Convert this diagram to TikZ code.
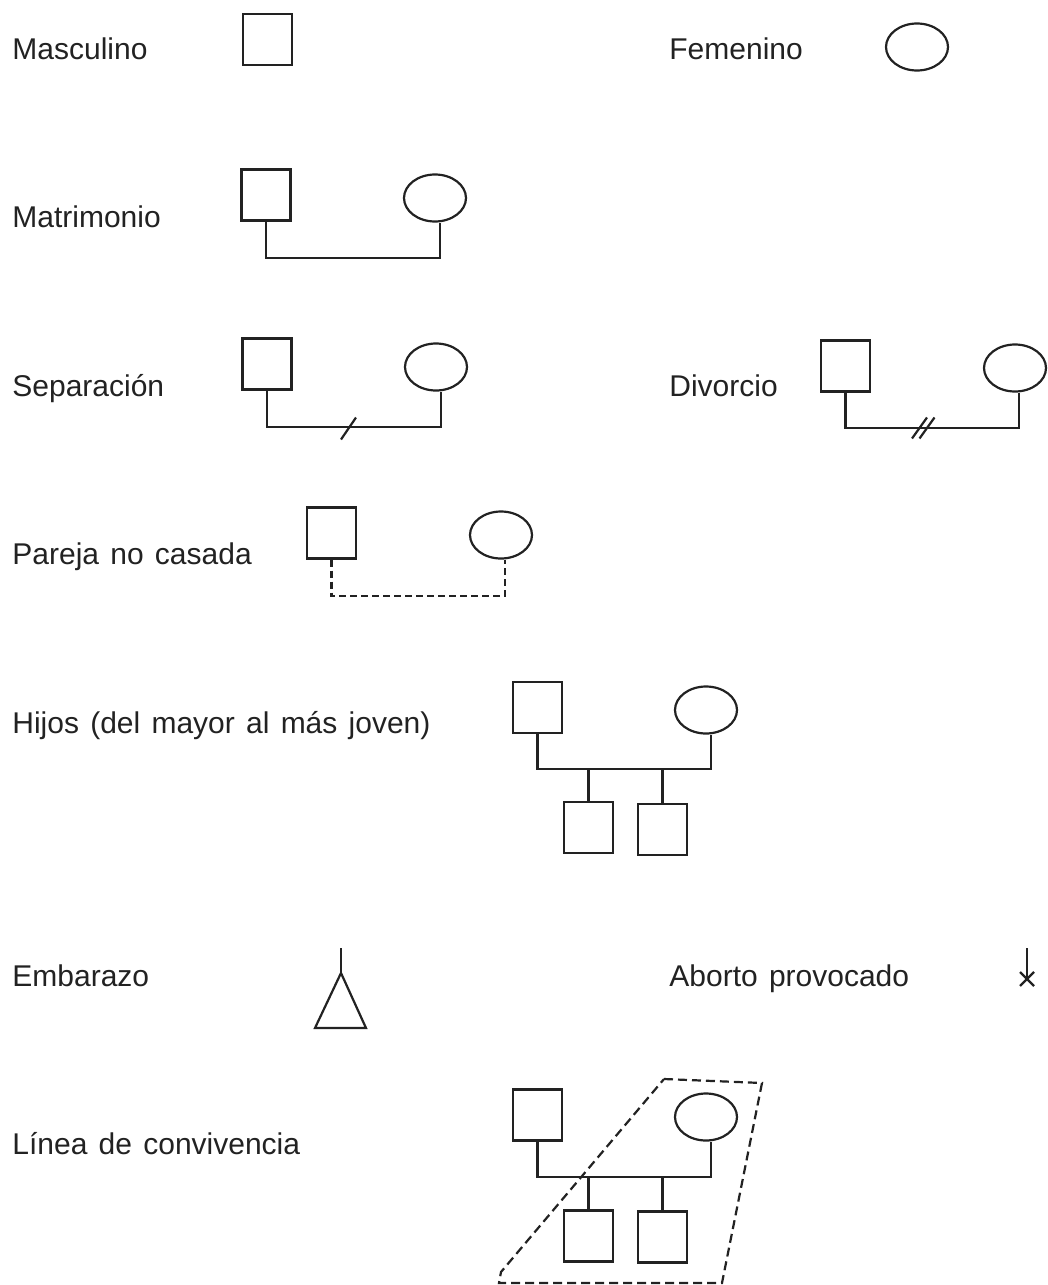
\documentclass[tikz,border=0pt]{standalone}
\usepackage{fontspec}
\setmainfont[WordSpace=1.35]{Liberation Sans}
\usetikzlibrary{shapes.geometric}
\definecolor{ink}{HTML}{222222}
\tikzset{
  lbl/.style={anchor=base west, inner sep=0pt, text=ink, font=\fontsize{15pt}{18pt}\selectfont},
  male/.style={draw=ink, line width=1.1pt, rectangle, minimum width=24.5pt, minimum height=25.5pt, inner sep=0pt},
  female/.style={draw=ink, line width=1.1pt, ellipse, minimum width=31pt, minimum height=23.5pt, inner sep=0pt},
  link/.style={draw=ink, line width=1.1pt},
  dashlink/.style={draw=ink, line width=1.1pt, dash pattern=on 3.5pt off 2pt},
  hullline/.style={draw=ink, line width=1.1pt, dash pattern=on 4.5pt off 2.5pt}
}
\begin{document}
\begin{tikzpicture}[x=0.5pt, y=-0.5pt]
\useasboundingbox (0,0) rectangle (1048,1285);

% Masculino / Femenino
\node[lbl] (tMasc) at (12,59) {Masculino};
\node[male] (mA) at (267.5,39.5) {};
\node[lbl] (tFem) at (669,59) {Femenino};
\node[female] (fA) at (917,47) {};

% Matrimonio
\node[lbl] (tMat) at (12,227) {Matrimonio};
\node[male] (mB) at (266,195) {};
\node[female] (fB) at (435,198) {};
\coordinate (barB) at (0,258);
\draw[link] (mB.south) -- (mB.south |- barB) -| ([xshift=2.5pt]fB.south);

% Separacion
\node[lbl] (tSep) at (12,396) {Separación};
\node[male] (mC) at (267,364) {};
\node[female] (fC) at (436,367) {};
\coordinate (barC) at (0,427);
\draw[link] (mC.south) -- (mC.south |- barC) -| ([xshift=2.5pt]fC.south);
\coordinate (sC) at (348.5,428.5);
\draw[link] ([shift={(-7.5,11)}]sC) -- ([shift={(7.5,-11)}]sC);

% Divorcio
\node[lbl] (tDiv) at (669,396) {Divorcio};
\node[male] (mD) at (845.5,366) {};
\node[female] (fD) at (1015,368) {};
\coordinate (barD) at (0,428);
\draw[link] (mD.south) -- (mD.south |- barD) -| ([xshift=2pt]fD.south);
\coordinate (sD1) at (919.5,428);
\coordinate (sD2) at (927,428);
\draw[link] ([shift={(-7.5,10.5)}]sD1) -- ([shift={(7.5,-10.5)}]sD1);
\draw[link] ([shift={(-7.5,10.5)}]sD2) -- ([shift={(7.5,-10.5)}]sD2);

% Pareja no casada
\node[lbl] (tPar) at (12,564) {Pareja no casada};
\node[male] (mE) at (331.5,533) {};
\node[female] (fE) at (501,535) {};
\coordinate (barE) at (0,596);
\draw[dashlink] (mE.south) -- (mE.south |- barE) -| ([xshift=2pt]fE.south);

% Hijos
\node[lbl] (tHij) at (12,733) {Hijos (del mayor al más joven)};
\node[male] (mF) at (537.5,707.5) {};
\node[female] (fF) at (706,710) {};
\node[male] (cF1) at (588.5,827.5) {};
\node[male] (cF2) at (662.5,829.5) {};
\coordinate (barF) at (0,769);
\draw[link] (mF.south) -- (mF.south |- barF) -| ([xshift=2.5pt]fF.south);
\draw[link] (cF1.north) -- (cF1.north |- barF);
\draw[link] (cF2.north) -- (cF2.north |- barF);

% Embarazo
\node[lbl] (tEmb) at (12,986) {Embarazo};
\coordinate (gTop) at (341,948);
\coordinate (gApex) at (341,973);
\coordinate (gL) at (315,1028);
\coordinate (gR) at (366,1028);
\draw[link] (gTop) -- (gApex);
\draw[link, line join=miter] (gApex) -- (gL) -- (gR) -- cycle;

% Aborto provocado
\node[lbl] (tAbo) at (669,986) {Aborto provocado};
\coordinate (aTop) at (1027,948);
\coordinate (aX) at (1027,979);
\draw[link] (aTop) -- (aX);
\draw[link] ([shift={(-7,-7)}]aX) -- ([shift={(7,7)}]aX);
\draw[link] ([shift={(-7,7)}]aX) -- ([shift={(7,-7)}]aX);

% Linea de convivencia
\node[lbl] (tCon) at (12,1154) {Línea de convivencia};
\node[male] (mG) at (537.5,1115) {};
\node[female] (fG) at (706,1117) {};
\node[male] (cG1) at (588.5,1236) {};
\node[male] (cG2) at (662.5,1237) {};
\coordinate (barG) at (0,1177);
\draw[link] (mG.south) -- (mG.south |- barG) -| ([xshift=2.5pt]fG.south);
\draw[link] (cG1.north) -- (cG1.north |- barG);
\draw[link] (cG2.north) -- (cG2.north |- barG);
\coordinate (hTL) at (664,1079);
\coordinate (hTR) at (762,1083);
\coordinate (hBR) at (722,1283);
\coordinate (hBL) at (499,1283);
\coordinate (hBLu) at (501,1272);
\draw[hullline] (hTL) -- (hTR) -- (hBR) -- (hBL) -- (hBLu) -- cycle;
\end{tikzpicture}
\end{document}
